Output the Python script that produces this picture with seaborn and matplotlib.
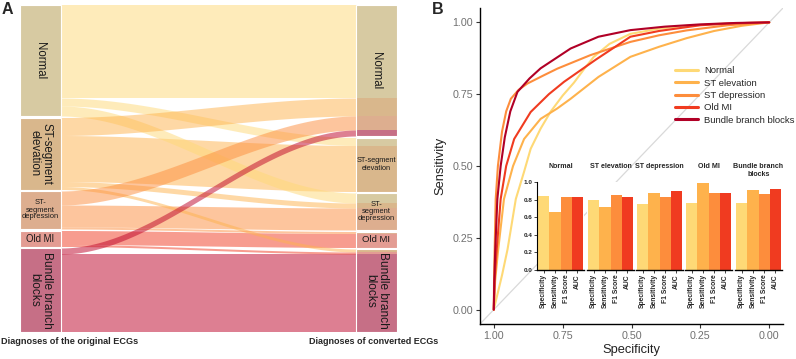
import numpy as np
import pandas as pd
import matplotlib
matplotlib.use("Agg")
import matplotlib.pyplot as plt
import seaborn as sns
from matplotlib.patches import Rectangle
from matplotlib.lines import Line2D

sns.set_style("ticks")
plt.rcParams['font.family'] = ['Liberation Sans', 'DejaVu Sans']

# =========================
# Data - panel A (alluvial)
# =========================
classes = ["Normal", "ST-segment elevation", "ST-segment depression", "Old MI", "Bundle branch blocks"]
# rows = diagnosis of original ECG, cols = diagnosis of converted ECG
flows = np.array([
    [93, 8, 10, 0, 0],
    [18, 46, 5, 0, 3],
    [14, 0, 22, 2, 0],
    [0, 0, 0, 14, 2],
    [6, 0, 0, 0, 78],
])
flow_colors = ["#FED976", "#FEB24C", "#FD8D3C", "#F03B20", "#BD0026"]
node_colors = ["#D7CAA2", "#D9B78C", "#DDAE8F", "#E39C93", "#C66F86"]
left_labels = ["Normal", "ST-segment\nelevation", "ST-\nsegment\ndepression", "Old MI", "Bundle branch\nblocks"]
right_labels = ["Normal", "ST-segment\nelevation", "ST-\nsegment\ndepression", "Old MI", "Bundle branch\nblocks"]
left_rot = [270, 270, 0, 0, 270]
right_rot = [270, 0, 0, 0, 270]
left_size = [8.3, 8.3, 5.4, 6.9, 8.6]
right_size = [8.3, 5.3, 5.4, 6.8, 8.6]

# =========================
# Data - panel B (ROC curves)
# =========================
roc_names = ["Normal", "ST elevation", "ST depression", "Old MI", "Bundle branch blocks"]
roc_colors = ["#FED976", "#FEB24C", "#FD8D3C", "#F03B20", "#B10026"]

normal_spec = [1.00, 0.97, 0.95, 0.92, 0.89, 0.866, 0.83, 0.793, 0.75, 0.709, 0.67, 0.637, 0.58, 0.504, 0.40, 0.30, 0.18, 0.08, 0.00]
normal_sens = [0.00, 0.12, 0.21, 0.385, 0.48, 0.56, 0.63, 0.69, 0.745, 0.79, 0.84, 0.88, 0.925, 0.96, 0.978, 0.988, 0.995, 0.998, 1.00]

ste_spec = [1.00, 0.995, 0.985, 0.963, 0.93, 0.89, 0.83, 0.77, 0.721, 0.62, 0.504, 0.40, 0.30, 0.20, 0.10, 0.00]
ste_sens = [0.00, 0.10, 0.20, 0.385, 0.50, 0.594, 0.664, 0.70, 0.734, 0.81, 0.88, 0.915, 0.945, 0.97, 0.988, 1.00]

std_spec = [1.00, 0.999, 0.997, 0.993, 0.985, 0.97, 0.955, 0.938, 0.91, 0.878, 0.82, 0.769, 0.649, 0.504, 0.40, 0.30, 0.15, 0.00]
std_sens = [0.00, 0.10, 0.20, 0.385, 0.50, 0.62, 0.69, 0.734, 0.765, 0.787, 0.815, 0.839, 0.886, 0.932, 0.955, 0.972, 0.99, 1.00]

oldmi_spec = [1.00, 0.997, 0.99, 0.975, 0.955, 0.926, 0.866, 0.80, 0.745, 0.63, 0.504, 0.40, 0.25, 0.12, 0.00]
oldmi_sens = [0.00, 0.10, 0.20, 0.385, 0.50, 0.594, 0.688, 0.75, 0.793, 0.87, 0.95, 0.97, 0.99, 0.997, 1.00]

bbb_spec = [1.00, 0.998, 0.995, 0.987, 0.975, 0.96, 0.94, 0.914, 0.87, 0.83, 0.721, 0.62, 0.504, 0.38, 0.25, 0.12, 0.00]
bbb_sens = [0.00, 0.10, 0.20, 0.385, 0.50, 0.60, 0.69, 0.758, 0.805, 0.84, 0.909, 0.95, 0.973, 0.985, 0.993, 0.998, 1.00]

# Inset bar values
metrics = ["Specificity", "Sensitivity", "F1 Score", "AUC"]
bar_colors = ["#FED976", "#FEB24C", "#FD8D3C", "#F03B20"]
facet_titles = ["Normal", "ST elevation", "ST depression", "Old MI", "Bundle branch\nblocks"]
normal_scores = [0.845, 0.66, 0.83, 0.835]
ste_scores = [0.795, 0.72, 0.85, 0.825]
std_scores = [0.745, 0.88, 0.83, 0.90]
oldmi_scores = [0.765, 0.99, 0.87, 0.87]
bbb_scores = [0.765, 0.91, 0.86, 0.915]

# =========================
# Figure
# =========================
W, H = 796, 359
fig = plt.figure(figsize=(W / 100, H / 100), dpi=100)


def px_axes(x0, y0, x1, y1):
    return fig.add_axes([x0 / W, 1 - y1 / H, (x1 - x0) / W, (y1 - y0) / H])


# ---------- Panel A ----------
axA = px_axes(20, 5, 397, 332)
gap = 1.5
box_w = 41
span = 377
src_tot = flows.sum(axis=1)
tgt_tot = flows.sum(axis=0)
src_y = np.concatenate([[0], np.cumsum(src_tot + gap)[:-1]])
tgt_y = np.concatenate([[0], np.cumsum(tgt_tot + gap)[:-1]])
total = max(src_tot.sum(), tgt_tot.sum()) + gap * (len(classes) - 1)
axA.set_xlim(0, span)
axA.set_ylim(total, 0)
axA.axis("off")

x0, x1 = box_w, span - box_w
t = np.linspace(0, 1, 120)
s = 3 * t ** 2 - 2 * t ** 3
xs = x0 + (x1 - x0) * t

n = len(classes)
pairs = [(i, i) for i in range(n)] + [(i, j) for i in range(n) for j in range(n) if i != j]
for i, j in pairs:
    v = flows[i, j]
    if v == 0:
        continue
    sy = src_y[i] + flows[i, :j].sum()
    ty = tgt_y[j] + flows[:i, j].sum()
    top = sy + (ty - sy) * s
    a = 0.5 if i == j else 0.5
    axA.fill_between(xs, top, top + v, color=flow_colors[i], alpha=a, lw=0)

# left nodes
for i in range(n):
    axA.add_patch(Rectangle((0, src_y[i]), box_w, src_tot[i], fc=node_colors[i], ec="white", lw=0.8))
    axA.text(box_w / 2, src_y[i] + src_tot[i] / 2, left_labels[i], rotation=left_rot[i],
             ha="center", va="center", fontsize=left_size[i], color="#1a1a1a", linespacing=1.0)
# right nodes: segments coloured by the original class
for j in range(n):
    yy = tgt_y[j]
    for i in range(n):
        v = flows[i, j]
        if v == 0:
            continue
        axA.add_patch(Rectangle((x1, yy), box_w, v, fc=node_colors[i], ec="none"))
        yy += v
    axA.add_patch(Rectangle((x1, tgt_y[j]), box_w, tgt_tot[j], fc="none", ec="white", lw=0.8))
    axA.text(x1 + box_w / 2, tgt_y[j] + tgt_tot[j] / 2, right_labels[j], rotation=right_rot[j],
             ha="center", va="center", fontsize=right_size[j], color="#1a1a1a", linespacing=1.0)

fig.text(1 / W, 1 - 342 / H, "Diagnoses of the original ECGs", fontsize=6.6, fontweight="bold",
         ha="left", va="center")
fig.text(309 / W, 1 - 342 / H, "Diagnoses of converted ECGs", fontsize=6.5, fontweight="bold",
         ha="left", va="center")
fig.text(2 / W, 1 - 2 / H, "A", fontsize=11.5, fontweight="bold", ha="left", va="top")
fig.text(432 / W, 1 - 2 / H, "B", fontsize=11.5, fontweight="bold", ha="left", va="top")

# ---------- Panel B ----------
axB = px_axes(480, 8, 783, 324)
roc = pd.concat([
    pd.DataFrame({"Specificity": sp, "Sensitivity": se, "group": nm})
    for nm, sp, se in zip(roc_names,
                          [normal_spec, ste_spec, std_spec, oldmi_spec, bbb_spec],
                          [normal_sens, ste_sens, std_sens, oldmi_sens, bbb_sens])
], ignore_index=True)

axB.axline((0, 1), slope=-1, color="#D9D9D9", lw=0.9, zorder=0)
sns.lineplot(data=roc, x="Specificity", y="Sensitivity", hue="group", hue_order=roc_names,
             palette=roc_colors, sort=False, estimator=None, linewidth=1.5, legend=False, ax=axB)
axB.set_xlim(1.05, -0.05)
axB.set_ylim(-0.05, 1.05)
ticks = [1.0, 0.75, 0.5, 0.25, 0.0]
axB.set_xticks(ticks)
axB.set_xticklabels([f"{v:.2f}" for v in ticks])
axB.set_yticks(ticks)
axB.set_yticklabels([f"{v:.2f}" for v in ticks])
axB.tick_params(labelsize=7.7, labelcolor="#707070", color="#333333", length=3, width=0.8, pad=2)
for sp_ in ["top", "right"]:
    axB.spines[sp_].set_visible(False)
for sp_ in ["left", "bottom"]:
    axB.spines[sp_].set_linewidth(1.0)
    axB.spines[sp_].set_color("black")
axB.set_xlabel("Specificity", fontsize=9.3, labelpad=2, color="#222222")
axB.set_ylabel("Sensitivity", fontsize=9.3, labelpad=4, color="#222222")

handles = [Line2D([0], [0], color=c, lw=2.2) for c in roc_colors]
axB.legend(handles, roc_names, loc="upper left", bbox_to_anchor=(0.6436, 0.815), frameon=False,
           fontsize=6.8, handlelength=2.45, handletextpad=0.6, labelspacing=0.35,
           borderaxespad=0, borderpad=0)

# ---------- Inset bars ----------
bar_starts = [538, 588, 637, 686, 736]
unit = 11.25
all_scores = [normal_scores, ste_scores, std_scores, oldmi_scores, bbb_scores]
for k, (bx, scores, title) in enumerate(zip(bar_starts, all_scores, facet_titles)):
    left = bx - 0.1 * unit
    ax = px_axes(left, 182, left + 4.2 * unit, 270)
    df = pd.DataFrame({"metric": metrics, "value": scores})
    sns.barplot(data=df, x="metric", y="value", hue="metric", palette=bar_colors, width=1,
                saturation=1, linewidth=0, legend=False, ax=ax)
    ax.set_xlim(-0.6, 3.6)
    ax.set_ylim(0, 1)
    ax.set_xlabel("")
    ax.set_ylabel("")
    ax.set_facecolor("white")
    ax.spines["top"].set_visible(False)
    ax.spines["right"].set_visible(False)
    ax.spines["bottom"].set_linewidth(1.0)
    ax.spines["bottom"].set_color("black")
    ax.tick_params(axis="x", labelsize=4.9, length=2, width=0.6, pad=1, labelrotation=90)
    for lab in ax.get_xticklabels():
        lab.set_fontweight("bold")
    if k == 0:
        ax.set_yticks([0, 0.2, 0.4, 0.6, 0.8, 1.0])
        ax.set_yticklabels([f"{v:.1f}" for v in [0, 0.2, 0.4, 0.6, 0.8, 1.0]])
        ax.tick_params(axis="y", labelsize=4.6, length=2, width=0.6, pad=1)
        for lab in ax.get_yticklabels():
            lab.set_fontweight("bold")
        ax.spines["left"].set_linewidth(0.8)
        ax.spines["left"].set_color("black")
    else:
        ax.spines["left"].set_visible(False)
        ax.set_yticks([])
    ax.text(0.5, 1.215, title, transform=ax.transAxes, ha="center", va="top", fontsize=5.1,
            fontweight="bold", linespacing=1.1)

fig.savefig("out.png", dpi=100)
